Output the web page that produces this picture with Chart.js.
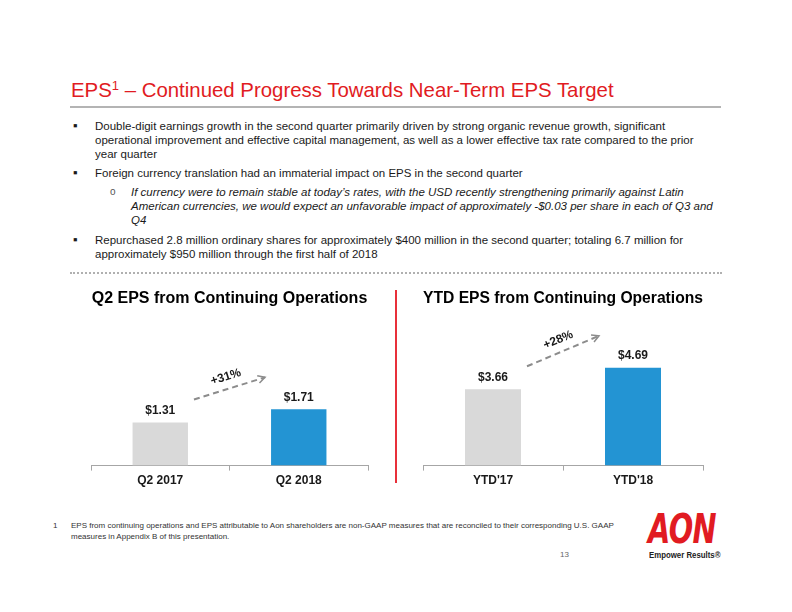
<!DOCTYPE html>
<html>
<head>
<meta charset="utf-8">
<script src="https://cdn.jsdelivr.net/npm/chart.js@4.4.0/dist/chart.umd.min.js"></script>
<style>
  body { margin: 0; width: 792px; height: 612px; background: #fff; position: relative; overflow: hidden;
         font-family: "Liberation Sans", Arial, sans-serif; color: #1a1a1a; }
  .abs { position: absolute; white-space: nowrap; }
  #title { left: 71px; top: 78px; font-size: 20.4px; line-height: 24px; color: #e11b22; }
  #title sup { font-size: 13px; vertical-align: 7px; line-height: 0; }
  #rule { left: 70px; top: 106px; width: 651px; height: 2px; background: #b4b4b4; }
  .para { font-size: 11.5px; line-height: 14px; }
  .bul { position: absolute; left: -22px; top: 0; font-size: 13px; }
  .sub { position: absolute; left: -21px; top: 0; font-size: 10px; color: #555; }
  .it { font-style: italic; }
  #dots { left: 70px; top: 272px; width: 652px; height: 0; border-top: 2px dotted #b0b0b0; }
  #divider { left: 395px; top: 290px; width: 2px; height: 193px; background: #e8303a; }
  #fn { left: 71px; top: 521px; font-size: 8px; line-height: 10.5px; color: #333; }
  #fnnum { left: 53px; top: 521px; font-size: 8px; line-height: 10.5px; color: #333; }
  #page { left: 560px; top: 550px; font-size: 8px; color: #666; }
  #logo { left: 648px; top: 507px; font-family: "DejaVu Sans", sans-serif; font-weight: bold; font-style: italic;
          font-size: 40px; line-height: 44px; color: #e11b22; letter-spacing: -1px; transform: scaleX(0.72); transform-origin: left top; }
  #tag { left: 649px; top: 550px; font-family: "Liberation Sans", sans-serif; font-weight: bold;
         font-size: 9px; color: #222; transform: scaleX(0.87); transform-origin: left top; }
  canvas { position: absolute; }
</style>
</head>
<body>
<div class="abs" id="title">EPS<sup>1</sup> – Continued Progress Towards Near-Term EPS Target</div>
<div class="abs" id="rule"></div>

<div class="abs para" style="left:95px; top:119px;"><span class="bul">▪</span>Double-digit earnings growth in the second quarter primarily driven by strong organic revenue growth, significant<br>operational improvement and effective capital management, as well as a lower effective tax rate compared to the prior<br>year quarter</div>
<div class="abs para" style="left:95px; top:166px;"><span class="bul">▪</span>Foreign currency translation had an immaterial impact on EPS in the second quarter</div>
<div class="abs para it" style="left:131px; top:185px;"><span class="sub" style="font-style:normal">o</span>If currency were to remain stable at today’s rates, with the USD recently strengthening primarily against Latin<br>American currencies, we would expect an unfavorable impact of approximately -$0.03 per share in each of Q3 and<br>Q4</div>
<div class="abs para" style="left:95px; top:233px;"><span class="bul">▪</span>Repurchased 2.8 million ordinary shares for approximately $400 million in the second quarter; totaling 6.7 million for<br>approximately $950 million through the first half of 2018</div>
<div class="abs" id="dots"></div>

<canvas id="q2Chart" width="300" height="213" style="left:80px; top:283px;"></canvas>
<div class="abs" id="divider"></div>
<canvas id="ytdChart" width="305" height="213" style="left:410px; top:283px;"></canvas>

<div class="abs" id="fnnum">1</div>
<div class="abs" id="fn">EPS from continuing operations and EPS attributable to Aon shareholders are non-GAAP measures that are reconciled to their corresponding U.S. GAAP<br>measures in Appendix B of this presentation.</div>
<div class="abs" id="page">13</div>
<div class="abs" id="logo">AON</div>
<div class="abs" id="tag">Empower Results®</div>

<script>
const q2Labels = ['Q2 2017', 'Q2 2018'];
const q2Eps = [1.31, 1.71];
const ytdLabels = ["YTD'17", "YTD'18"];
const ytdEps = [3.66, 4.69];
const growthLabels = ['+31%', '+28%'];
const chartTitles = ['Q2 EPS from Continuing Operations', 'YTD EPS from Continuing Operations'];

const barColors = ['#d9d9d9', '#2394d3'];
const axisColor = '#a6a6a6';

// dollar labels above each bar
const valueLabels = {
  id: 'valueLabels',
  afterDatasetsDraw(chart) {
    const ctx = chart.ctx;
    const meta = chart.getDatasetMeta(0);
    ctx.save();
    ctx.font = 'bold 12px "Liberation Sans", Arial, sans-serif';
    ctx.fillStyle = '#1a1a1a';
    ctx.textAlign = 'center';
    ctx.textBaseline = 'middle';
    meta.data.forEach((bar, i) => {
      const v = chart.data.datasets[0].data[i];
      ctx.fillText('$' + v.toFixed(2), bar.x, bar.y - 12);
    });
    ctx.restore();
  }
};

// dashed growth arrow between the two bars
const growthArrow = {
  id: 'growthArrow',
  afterDatasetsDraw(chart, args, opts) {
    const ctx = chart.ctx;
    const meta = chart.getDatasetMeta(0);
    const a = meta.data[0], b = meta.data[1];
    const x1 = a.x + a.width / 2 + 6, y1 = a.y - 23;
    const x2 = b.x - b.width / 2 - 6, y2 = b.y - 32;
    const ang = Math.atan2(y2 - y1, x2 - x1);
    ctx.save();
    ctx.strokeStyle = '#8c8c8c';
    ctx.lineWidth = 2;
    ctx.setLineDash([6, 4]);
    ctx.beginPath();
    ctx.moveTo(x1, y1);
    ctx.lineTo(x2, y2);
    ctx.stroke();
    ctx.setLineDash([]);
    ctx.lineWidth = 1.5;
    ctx.beginPath();
    ctx.moveTo(x2 - 8 * Math.cos(ang - 0.5), y2 - 8 * Math.sin(ang - 0.5));
    ctx.lineTo(x2, y2);
    ctx.lineTo(x2 - 8 * Math.cos(ang + 0.5), y2 - 8 * Math.sin(ang + 0.5));
    ctx.stroke();
    // label, rotated along the arrow
    const mx = (x1 + x2) / 2 + 12 * Math.sin(ang);
    const my = (y1 + y2) / 2 - 12 * Math.cos(ang);
    ctx.translate(mx, my);
    ctx.rotate(ang);
    ctx.font = 'bold 12px "Liberation Sans", Arial, sans-serif';
    ctx.fillStyle = '#1a1a1a';
    ctx.textAlign = 'center';
    ctx.textBaseline = 'middle';
    ctx.fillText(opts.text, 0, 0);
    ctx.restore();
  }
};

function makeChart(id, title, labels, values, growth, yMax, padLeft, padRight) {
  return new Chart(document.getElementById(id), {
    type: 'bar',
    data: {
      labels: labels,
      datasets: [{
        data: values,
        backgroundColor: barColors,
        borderWidth: 0,
        barPercentage: 0.8,
        categoryPercentage: 0.5
      }]
    },
    options: {
      responsive: false,
      animation: false,
      layout: { padding: { left: padLeft, right: padRight, top: 0, bottom: 5 } },
      plugins: {
        legend: { display: false },
        tooltip: { enabled: false },
        title: {
          display: true,
          text: title,
          color: '#000',
          font: { family: '"Liberation Sans", Arial, sans-serif', size: 16, weight: 'bold' },
          padding: { top: 6, bottom: 10 }
        },
        growthArrow: { text: growth }
      },
      scales: {
        x: {
          grid: { display: true, drawOnChartArea: false, drawTicks: true, tickLength: 5, color: axisColor, offset: true },
          border: { display: true, color: axisColor, width: 1 },
          ticks: {
            color: '#1a1a1a',
            padding: 3,
            font: { family: '"Liberation Sans", Arial, sans-serif', size: 12, weight: 'bold' }
          }
        },
        y: { display: false, min: 0, max: yMax }
      }
    },
    plugins: [valueLabels, growthArrow]
  });
}

makeChart('q2Chart', chartTitles[0], q2Labels, q2Eps, growthLabels[0], 4.48, 11, 12);
makeChart('ytdChart', chartTitles[1], ytdLabels, ytdEps, growthLabels[1], 7.07, 13, 12);
</script>
</body>
</html>
